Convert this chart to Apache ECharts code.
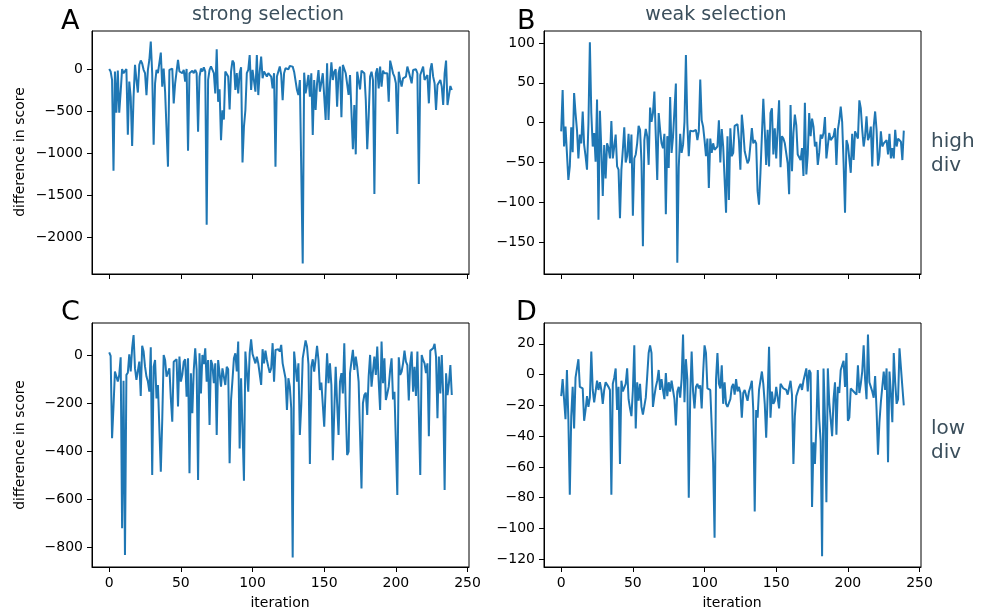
<!DOCTYPE html>
<html>
<head>
<meta charset="utf-8">
<script src="https://cdn.jsdelivr.net/npm/echarts@6/dist/echarts.min.js"></script>
<style>
  html, body { margin: 0; padding: 0; background: #fff; }
  #chart { width: 990px; height: 615px; }
</style>
</head>
<body>
<div id="chart"></div>
<script>
// score differences per iteration
var strongHigh = [
  0,-30,-130,-1210,-30,-520,-20,-520,-270,0,
  -50,-30,0,-780,-150,-330,-915,-330,50,-130,
  -280,50,100,65,-10,-50,-310,-10,107,325,
  -50,-900,-170,-10,-50,-70,195,-210,5,-270,
  -290,-1160,-10,-10,5,-410,-170,-30,107,-30,
  -10,-50,-10,-150,0,-970,-50,-30,-20,-50,
  -10,-50,-745,-90,5,-30,20,-30,-1850,-130,
  -10,30,50,-50,-290,235,-390,-240,-845,-490,
  -600,-30,-30,-90,-480,-30,100,70,-250,-50,
  -290,-50,20,-1110,-685,-490,-50,-10,166,-250,
  -10,-30,-270,166,-310,-30,146,-110,-30,-50,
  -90,-50,-30,-90,-230,-50,-1160,-90,-83,30,
  -70,-370,
  -51,8,20,-4,36,48,28,-32,-20,-250,
  -309,-131,-111,-2309,-44,-289,-190,-71,-329,-51,
  -784,-131,-487,-170,-12,-269,-250,-51,-71,-606,
  67,-606,-170,79,-131,-32,-4,-447,-51,28,
  -574,48,67,-51,-32,-309,-71,-91,-954,-428,
  -1014,-32,-12,-242,-20,-4,-51,-368,-954,-566,
  -91,-32,-131,-1485,-51,8,-230,28,-210,-20,
  -51,-71,-51,-388,99,28,-51,-91,-170,-772,
  -32,-131,-210,-111,-131,-91,28,-32,-51,-170,
  -12,8,-4,-51,-1366,-71,-51,28,-131,-150,
  -71,-408,-12,67,-91,-170,-487,-190,-170,-131,
  -210,-428,-51,99,-428,-428,-202,-250
];

var weakHigh = [
  -11,41,-30,-5,-3,-72,-55,-6,-37,37,
  12,-9,-45,-15,-26,14,-28,-42,-59,-1,
  101,12,-30,-13,-49,29,-122,15,-34,-92,
  -28,-70,-26,-32,-45,2,-45,-30,
  -15,-55,-59,-120,-59,-34,-6,-50,-42,-14,
  -51,-15,-117,-45,-40,-26,-4,-9,-49,-155,
  -22,-8,-17,-53,19,1,12,39,-17,-72,
  12,-9,-26,-32,-14,-115,-17,-57,32,-38,
  -18,-17,49,-176,-56,-14,-38,-28,1,85,
  -1,-42,-10,-11,-11,-10,-9,-22,-11,54,
  3,-5,-22,-42,-20,-82,-20,-38,-26,-34,
  -32,-30,3,-50,-8,-30,-30,-113,-17,-97,
  -7,-42,-38,-4,
  -5,-2,-22,-59,10,-9,-36,-37,-51,-47,
  -28,-7,-26,-22,-26,-86,-103,-63,-61,
  30,-9,-53,-9,-55,12,18,-40,-7,-45,
  -9,28,-56,-17,-20,-26,-28,-51,-90,22,
  -61,-13,10,-3,-40,-40,-47,-32,-67,
  25,-65,-40,12,-17,5,-5,-30,-24,-53,
  -38,-15,-20,-13,7,-45,-47,-13,-22,
  -21,-17,-7,-53,-9,3,20,1,-51,-113,
  -22,-28,-28,-63,-14,-47,-11,-11,-20,
  28,18,-9,-30,-17,8,-22,-17,-5,
  -55,-5,14,-9,-54,-42,-11,-30,-26,
  -28,-22,-40,-14,-45,-32,-45,-9,-30,-20,
  -22,-24,-47,-10
];

var strongLow = [
  11,-4,-347,-215,-69,-65,-111,-83,-10,-722,
  -107,-833,-83,-74,3,-69,28,83,-56,
  -104,-107,-28,-171,38,14,-49,-90,-111,-153,
  32,-500,-49,-21,-181,-125,-132,-486,-271,0,
  -21,-90,-83,-56,-181,-278,-28,-24,-18,-215,
  -7,-111,-83,-28,-18,-174,-14,-493,-76,
  -243,-62,28,-60,-521,7,-160,0,-38,
  28,-111,-21,-292,-21,-42,-118,-35,-333,-21,
  -18,-132,-56,-60,-125,-49,-60,-451,-188,
  -104,-14,7,-69,56,-389,-97,-97,-524,14,
  7,-153,7,65,4,-4,-35,-7,-35,
  -42,-125,24,-35,18,-21,-49,-74,-56,
  49,-111,21,14,24,14,42,-35,-42,
  -97,-229,-97,-132,-222,-843,14,18,-111,-35,
  -333,-208,-14,-18,60,35,-38,-454,-49,-18,
  -69,-18,38,-21,-146,-115,-115,-299,
  -139,7,-118,-35,-125,-438,-236,-49,-201,-333,
  -111,-76,-160,49,-215,-417,-403,-76,-69,
  21,-62,-7,-49,-111,-111,-556,-201,
  -167,-157,-250,-90,0,-132,-69,-7,-83,
  35,-111,-229,56,-118,-14,-188,-162,-132,-62,
  -14,-185,-153,-160,-583,-10,-83,-69,-35,
  18,-28,-42,-190,-35,14,-153,-49,-171,
  14,7,-500,0,-21,-35,-76,-35,-338,
  18,14,28,46,-7,-264,-7,-160,0,
  -167,-562,-76,-167,-118,-42,-167
];

var weakLow = [
  -14,-3,-3,-29,3,-29,-78,-27,-8,-35,
  -2,-2,10,-8,-9,-9,-30,-23,-14,-21,
  -15,15,-10,-18,-11,-4,-10,-5,-10,
  -19,-10,-5,-5,-8,-10,-78,-6,-2,4,
  -23,-8,-58,-4,-11,-10,-6,4,-16,
  -22,-27,-10,19,-35,-5,-17,-6,-21,
  -26,-25,-15,-1,14,19,14,-21,-14,-8,
  -4,3,-10,-3,-10,-16,1,-14,
  -5,-11,-4,-3,-16,-33,-11,-8,-15,
  -3,26,-18,10,-3,-80,-14,15,-11,-22,
  -8,-6,-9,-7,-22,1,19,14,-9,-9,
  -10,-10,-57,-106,-3,14,-6,-9,6,-19,
  -5,-19,-21,-21,-16,-8,-6,-13,
  -3,-11,-8,-12,-28,-12,-10,-9,-17,-11,
  -8,-4,-23,-89,-23,-28,-10,-11,2,-6,
  -19,-41,-14,18,-28,-11,-19,-17,-8,-9,
  -22,-6,-6,-9,-9,-10,-13,-14,-4,-13,
  -58,-27,-14,-13,-8,-6,-10,-4,-4,4,
  -11,3,1,-86,-44,-58,-33,3,-29,-43,
  -118,4,-27,-83,4,-18,-29,-40,-16,-5,
  -39,-8,-12,3,6,9,-8,14,-30,
  -28,-9,-10,-11,-11,-13,6,-12,
  -6,2,19,-3,-16,26,-5,-8,-11,
  -15,-1,-23,-52,-31,-18,-8,2,-10,
  4,-57,2,-12,-31,14,-5,-19,-16,
  17,18,-8,-20
];

var xTicks = [0, 50, 100, 150, 200, 250];
var yTicksStrongHigh = [-2000, -1500, -1000, -500, 0];
var yTicksWeakHigh = [-150, -100, -50, 0, 50, 100];
var yTicksStrongLow = [-800, -600, -400, -200, 0];
var yTicksWeakLow = [-120, -100, -80, -60, -40, -20, 0, 20];

var FONT = 'DejaVu Sans';
var SLATE = '#3b4f5c';

function pairs(arr) {
  return arr.map(function (v, i) { return [i, v]; });
}
function minus(v) {
  return String(v).replace('-', '\u2212');
}

function xAxis(idx, showLabels) {
  return {
    type: 'value', gridIndex: idx, min: -12, max: 251,
    splitLine: { show: false },
    axisLine: { show: true, onZero: false, lineStyle: { color: '#000', width: 1 } },
    axisTick: { show: true, length: 5, customValues: xTicks, lineStyle: { color: '#000', width: 1 } },
    axisLabel: { show: showLabels, customValues: xTicks, margin: 9, color: '#000',
      fontFamily: FONT, fontSize: 14, formatter: minus }
  };
}
function yAxis(idx, min, max, ticks) {
  return {
    type: 'value', gridIndex: idx, min: min, max: max,
    splitLine: { show: false },
    axisLine: { show: true, onZero: false, lineStyle: { color: '#000', width: 1 } },
    axisTick: { show: true, length: 5, customValues: ticks, lineStyle: { color: '#000', width: 1 } },
    axisLabel: { customValues: ticks, margin: 9, color: '#000',
      fontFamily: FONT, fontSize: 14, formatter: minus }
  };
}
function grid(left, top, height) {
  return { left: left, top: top, width: 377, height: height,
    show: true, borderColor: '#000', borderWidth: 1, backgroundColor: 'transparent',
    containLabel: false, outerBoundsMode: 'none' };
}
function lineSeries(idx, arr) {
  return {
    type: 'line', xAxisIndex: idx, yAxisIndex: idx, data: pairs(arr),
    showSymbol: false, symbol: 'none', smooth: false,
    lineStyle: { color: '#1f77b4', width: 2 }, itemStyle: { color: '#1f77b4' }
  };
}
function txt(s, x, y, size, color, align, extra) {
  var el = { type: 'text', x: x, y: y, silent: true,
    style: { text: s, font: size + 'px "' + FONT + '"', fill: color,
      textAlign: align || 'left', textVerticalAlign: 'middle' } };
  if (extra) for (var k in extra) el[k] = extra[k];
  return el;
}

var chart = echarts.init(document.getElementById('chart'), null, { renderer: 'canvas' });
chart.setOption({
  animation: false,
  backgroundColor: '#fff',
  grid: [grid(92, 31, 243), grid(544, 31, 243), grid(92, 323, 244), grid(544, 323, 244)],
  xAxis: [xAxis(0, false), xAxis(1, false), xAxis(2, true), xAxis(3, true)],
  yAxis: [
    yAxis(0, -2435, 451, yTicksStrongHigh),
    yAxis(1, -190, 115, yTicksWeakHigh),
    yAxis(2, -883, 133, yTicksStrongLow),
    yAxis(3, -125, 33.5, yTicksWeakLow)
  ],
  series: [
    lineSeries(0, strongHigh),
    lineSeries(1, weakHigh),
    lineSeries(2, strongLow),
    lineSeries(3, weakLow)
  ],
  graphic: [
    txt('A', 61, 22, 27, '#000'),
    txt('B', 517, 22, 27, '#000'),
    txt('C', 61, 313, 27, '#000'),
    txt('D', 516, 313, 27, '#000'),
    txt('strong selection', 268, 15, 19, SLATE, 'center'),
    txt('weak selection', 716, 15, 19, SLATE, 'center'),
    { type: 'text', x: 931, y: 130, silent: true,
      style: { text: 'high\ndiv', font: '20px "' + FONT + '"', fill: SLATE, lineHeight: 24, textVerticalAlign: 'top' } },
    { type: 'text', x: 931, y: 417, silent: true,
      style: { text: 'low\ndiv', font: '20px "' + FONT + '"', fill: SLATE, lineHeight: 24, textVerticalAlign: 'top' } },
    txt('difference in score', 20, 152, 14, '#000', 'center', { rotation: Math.PI / 2 }),
    txt('difference in score', 20, 445, 14, '#000', 'center', { rotation: Math.PI / 2 }),
    txt('iteration', 280, 603, 14, '#000', 'center'),
    txt('iteration', 732, 603, 14, '#000', 'center')
  ]
});
</script>
</body>
</html>
